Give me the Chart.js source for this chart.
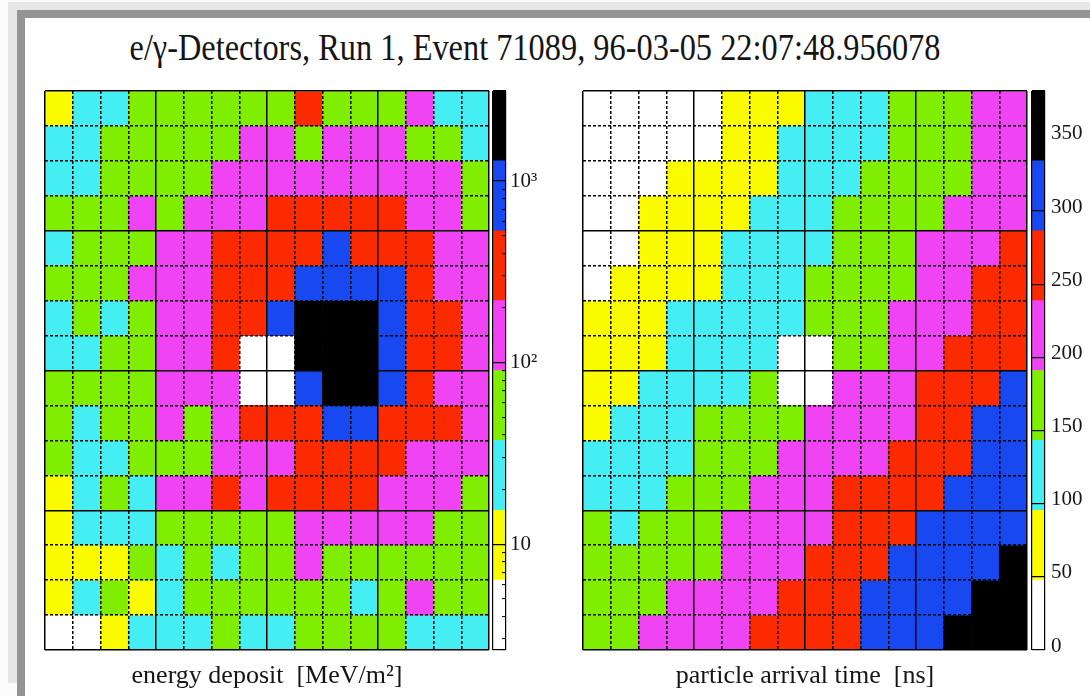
<!DOCTYPE html>
<html>
<head>
<meta charset="utf-8">
<script src="https://cdn.jsdelivr.net/npm/chart.js@4.4.1/dist/chart.umd.min.js"></script>
<style>
  html, body { margin: 0; padding: 0; background: #fbfbfb; }
  body { width: 1090px; height: 696px; position: relative; overflow: hidden; font-family: "Liberation Serif", "Times New Roman", serif; }
  .band { position: absolute; }
  #page { position: absolute; left: 25px; top: 18px; width: 1065px; height: 678px; background: #ffffff; }
  #title { position: absolute; left: 0; top: 29px; width: 1070px; text-align: center; font-family: "Liberation Serif", serif; font-size: 37px; line-height: 1; color: #151515; white-space: pre; transform: scaleX(0.875); transform-origin: 535px 50%; }
  canvas { position: absolute; }
</style>
</head>
<body>
<div class="band" style="left:8px;top:2px;width:1082px;height:8px;background:#e7e7e7"></div>
<div class="band" style="left:8px;top:2px;width:9px;height:681px;background:#e7e7e7"></div>
<div class="band" style="left:17px;top:10px;width:1073px;height:8px;background:#949494"></div>
<div class="band" style="left:17px;top:10px;width:8px;height:686px;background:#949494"></div>
<div id="page"></div>
<div id="title">e/γ-Detectors, Run 1, Event 71089, 96-03-05 22:07:48.956078</div>

<canvas id="energyMap" width="454" height="610" style="left:40px;top:86px"></canvas>
<canvas id="energyScale" width="60" height="607" style="left:488px;top:67px"></canvas>
<canvas id="timeMap" width="454" height="610" style="left:578px;top:86px"></canvas>
<canvas id="timeScale" width="63" height="607" style="left:1027px;top:67px"></canvas>

<script>
// Eight-step colour table shared by both maps (low -> high)
const palette = ['#ffffff', '#fcfc00', '#44eef2', '#80ee00', '#f044f4', '#fc2a00', '#1848f0', '#000000'];

// Energy deposit per detector [MeV/m^2], 16 x 16, top row first; null = no reading
const energyRows = [
  [11, 24, 31, 46, 52, 58, 63, 71, 84, 236, 77, 66, 59, 97, 33, 27],
  [28, 33, 41, 49, 55, 67, 82, 104, 121, 86, 133, 118, 101, 79, 53, 35],
  [26, 34, 44, 52, 63, 78, 112, 139, 162, 176, 188, 171, 150, 127, 96, 72],
  [41, 47, 62, 93, 85, 124, 158, 197, 248, 297, 336, 288, 243, 187, 118, 74],
  [33, 45, 58, 83, 119, 167, 231, 284, 362, 471, 588, 452, 347, 262, 178, 106],
  [42, 54, 76, 98, 142, 203, 264, 351, 493, 742, 1030, 865, 611, 386, 205, 129],
  [33, 49, 35, 88, 131, 186, 277, 412, 636, 1540, 2870, 1960, 934, 448, 241, 152],
  [29, 32, 54, 81, 126, 199, 258, null, null, 1880, 2950, 2230, 1090, 497, 263, 161],
  [42, 51, 67, 86, 117, 173, 209, null, null, 1180, 1720, 1410, 812, 372, 205, 138],
  [42, 31, 60, 79, 108, 89, 196, 283, 367, 504, 676, 569, 431, 309, 226, 144],
  [40, 31, 29, 64, 77, 87, 146, 182, 211, 318, 379, 344, 251, 194, 153, 112],
  [14, 27, 43, 34, 93, 121, 228, 189, 238, 269, 296, 247, 207, 163, 116, 82],
  [12, 22, 29, 32, 56, 69, 78, 84, 88, 128, 157, 141, 119, 102, 73, 58],
  [9, 13, 14, 39, 33, 52, 36, 63, 74, 99, 81, 72, 66, 59, 51, 44],
  [8, 19, 41, 14, 28, 47, 55, 61, 68, 71, 57, 34, 53, 92, 48, 40],
  [5, 6, 10, 18, 24, 29, 40, 35, 31, 45, 50, 43, 41, 30, 25, 21]
];

// Particle arrival time per detector [ns], same layout
const timeRows = [
  [8, 12, 17, 26, 39, 54, 68, 83, 101, 116, 131, 149, 163, 178, 199, 214],
  [11, 15, 22, 31, 44, 61, 79, 98, 109, 124, 138, 155, 170, 186, 205, 221],
  [14, 19, 29, 52, 63, 75, 91, 104, 117, 134, 146, 160, 174, 188, 211, 228],
  [18, 27, 51, 58, 71, 87, 99, 112, 128, 148, 157, 169, 183, 196, 217, 233],
  [21, 33, 55, 66, 82, 97, 108, 121, 139, 152, 165, 179, 193, 207, 224, 246],
  [28, 52, 62, 77, 93, 103, 115, 132, 147, 158, 172, 187, 201, 219, 242, 259],
  [53, 64, 80, 98, 107, 119, 127, 140, 151, 167, 181, 194, 212, 229, 251, 268],
  [57, 70, 89, 101, 113, 125, 137, null, null, 176, 188, 203, 226, 244, 263, 277],
  [60, 78, 100, 111, 122, 136, 150, null, null, 198, 215, 232, 247, 266, 281, 294],
  [73, 99, 114, 129, 147, 161, 175, 189, 197, 209, 222, 236, 256, 279, 298, 312],
  [97, 110, 123, 138, 153, 166, 182, 195, 206, 218, 234, 249, 265, 284, 303, 318],
  [102, 118, 133, 146, 159, 177, 193, 204, 227, 241, 255, 270, 283, 292, 309, 325],
  [150, 126, 149, 162, 184, 199, 210, 223, 233, 248, 262, 278, 291, 304, 317, 331],
  [148, 156, 168, 179, 186, 202, 216, 231, 244, 258, 273, 292, 301, 314, 327, 342],
  [154, 171, 185, 195, 208, 220, 235, 246, 260, 276, 293, 306, 319, 328, 347, 359],
  [164, 180, 198, 213, 225, 234, 250, 264, 275, 282, 297, 311, 326, 339, 352, 368]
];

// Colour-scale ranges and axis ticks
const energyMin = 2.61, energyMax = 3133;
const timeMin = 0, timeMax = 382;
const energyTicks = [energyMin, 3, 4, 5, 6, 7, 8, 9, 10, 20, 30, 40, 50, 60, 70, 80, 90,
  100, 200, 300, 400, 500, 600, 700, 800, 900, 1000, 2000, 3000, energyMax];
const energyTickLabels = { 10: '10', 100: '10²', 1000: '10³' };
const timeTicks = [0, 50, 100, 150, 200, 250, 300, 350, timeMax];
const timeTickLabels = ['0', '50', '100', '150', '200', '250', '300', '350', ''];
const energyTitle = 'energy deposit  [MeV/m²]';
const timeTitle = 'particle arrival time  [ns]';

const nSteps = palette.length;
const nCells = 16;
const cellEdges = Array.from({ length: nCells + 1 }, (_, i) => i);
const serif = 'Liberation Serif';

const clampStep = k => Math.max(0, Math.min(nSteps - 1, k));
const energyStep = v => clampStep(Math.floor(nSteps * Math.log(v / energyMin) / Math.log(energyMax / energyMin)));
const timeStep = v => clampStep(Math.floor(nSteps * (v - timeMin) / (timeMax - timeMin)));

// Band limits for the colour keys
const energyBands = palette.map((_, k) => [
  energyMin * Math.pow(energyMax / energyMin, k / nSteps),
  energyMin * Math.pow(energyMax / energyMin, (k + 1) / nSteps)
]);
const timeBands = palette.map((_, k) => [
  timeMin + (timeMax - timeMin) * k / nSteps,
  timeMin + (timeMax - timeMin) * (k + 1) / nSteps
]);

function mapConfig(rows, stepOf, title) {
  const datasets = rows.map((row, r) => ({
    data: row.map((v, c) => (v === null ? null : { x: c + 0.5, y: [r, r + 1], v }))
             .filter(p => p !== null),
    backgroundColor: ctx => (ctx.raw ? palette[stepOf(ctx.raw.v)] : 'rgba(0,0,0,0)'),
    borderWidth: 0,
    grouped: false,
    barPercentage: 1,
    categoryPercentage: 1
  }));
  // dashed lines between detectors, solid lines every fourth one
  const dash = ctx => (ctx.tick && ctx.tick.value % 4 !== 0 ? [3, 2] : []);
  const axis = extra => Object.assign({
    type: 'linear', min: 0, max: nCells, offset: false, beginAtZero: false,
    afterBuildTicks: s => { s.ticks = cellEdges.map(v => ({ value: v })); },
    ticks: { display: false },
    grid: { z: 1, offset: false, color: '#000', lineWidth: 1.5, drawTicks: false },
    border: { display: false, z: 1, dash }
  }, extra);
  return {
    type: 'bar',
    data: { datasets },
    options: {
      responsive: false, animation: false, devicePixelRatio: 1,
      layout: { padding: { left: 5, right: 5, top: 5, bottom: 0 } },
      plugins: { legend: { display: false }, tooltip: { enabled: false } },
      scales: {
        x: axis({
          position: 'bottom',
          title: { display: true, text: title, color: '#151515',
                   font: { family: serif, size: 26 }, padding: { top: 0, bottom: 4 } },
          afterFit: s => { s.height = 46; }
        }),
        y: axis({ position: 'left', reverse: true })
      }
    }
  };
}

function keyConfig(bands, yScale) {
  const datasets = bands.map((b, k) => ({
    data: [[b[0], b[1]]],
    backgroundColor: palette[k],
    borderWidth: 0,
    grouped: false,
    barPercentage: 1,
    categoryPercentage: 1
  }));
  return {
    type: 'bar',
    data: { labels: [''], datasets },
    options: {
      responsive: false, animation: false, devicePixelRatio: 1,
      layout: { padding: { left: 5, right: 0, top: 24, bottom: 24 } },
      plugins: { legend: { display: false }, tooltip: { enabled: false } },
      scales: {
        x: {
          ticks: { display: false },
          grid: { z: 1, color: '#000', lineWidth: 1.2, drawTicks: false },
          border: { display: false }
        },
        y: yScale
      }
    }
  };
}

new Chart(document.getElementById('energyMap'), mapConfig(energyRows, energyStep, energyTitle));
new Chart(document.getElementById('timeMap'), mapConfig(timeRows, timeStep, timeTitle));

const isEnergyLine = v => energyTickLabels[v] !== undefined || v === energyMin || v === energyMax;
new Chart(document.getElementById('energyScale'), keyConfig(energyBands, {
  type: 'logarithmic', position: 'right', min: energyMin, max: energyMax, beginAtZero: false,
  afterBuildTicks: s => { s.ticks = energyTicks.map(v => ({ value: v, major: energyTickLabels[v] !== undefined })); },
  afterFit: s => { s.width = 42; },
  ticks: {
    autoSkip: false, padding: 8, color: '#151515',
    font: { family: serif, size: 21 },
    callback: v => energyTickLabels[v] || ''
  },
  grid: {
    z: 1, drawOnChartArea: true, lineWidth: 1.2, tickLength: -4, tickWidth: 1, tickColor: '#000',
    color: ctx => (ctx.tick && isEnergyLine(ctx.tick.value) ? '#000' : 'rgba(0,0,0,0)')
  },
  border: { display: false }
}));

new Chart(document.getElementById('timeScale'), keyConfig(timeBands, {
  type: 'linear', position: 'right', min: timeMin, max: timeMax, beginAtZero: false,
  afterBuildTicks: s => { s.ticks = timeTicks.map(v => ({ value: v })); },
  afterFit: s => { s.width = 45; },
  ticks: {
    autoSkip: false, padding: 6, labelOffset: -4, color: '#151515',
    font: { family: serif, size: 21 },
    callback: (v, i) => timeTickLabels[i]
  },
  grid: { z: 1, drawOnChartArea: true, lineWidth: 1.2, drawTicks: false, color: '#000' },
  border: { display: false }
}));
</script>
</body>
</html>
